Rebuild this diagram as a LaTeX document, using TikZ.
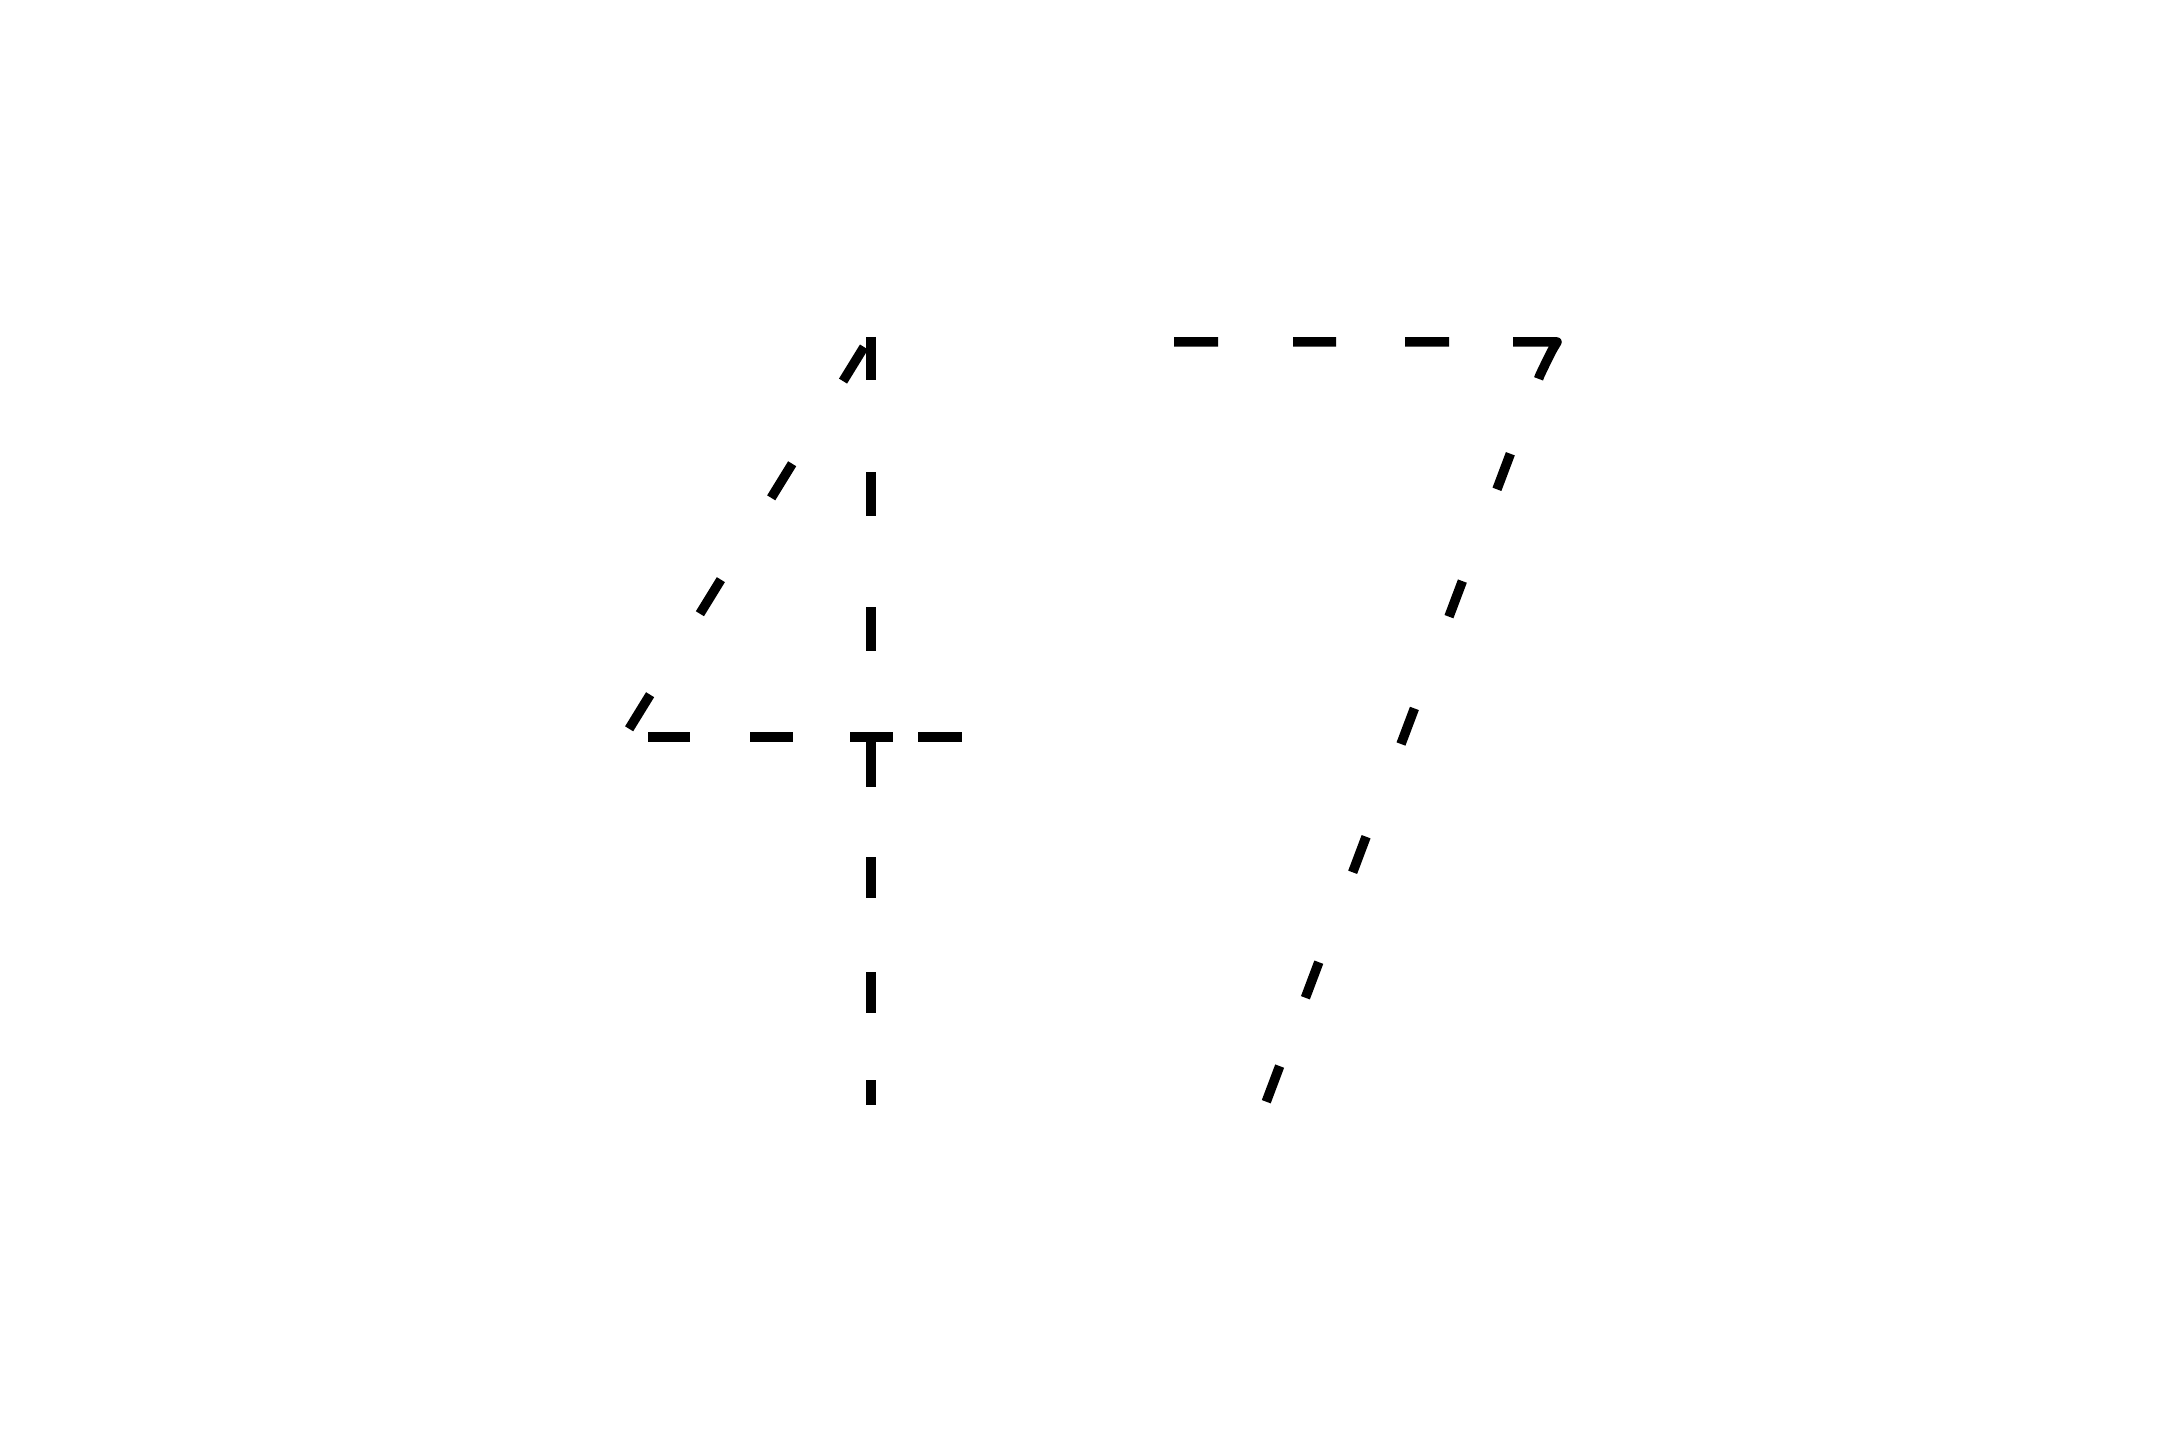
\documentclass[tikz,border=0pt]{standalone}
\usepackage{tikz}
\begin{document}
\begin{tikzpicture}[x=0.01cm,y=-0.01cm,
    glyph/.style={line width=0.095cm}]
  \useasboundingbox (0,0) rectangle (2160,1440);
  % the four
  \coordinate (fourtop) at (871,337);
  \coordinate (fourbot) at (871,1105);
  \coordinate (slanttop) at (864,347);
  \coordinate (slantbot) at (629,729);
  \coordinate (barleft) at (648,737);
  \coordinate (barright) at (962,737);
  \draw[glyph,dash pattern=on 0.43cm off 0.92cm on 0.44cm off 0.91cm on 0.44cm off 0.87cm
        on 0.49cm off 0.70cm on 0.41cm off 0.74cm on 0.41cm off 0.67cm on 0.25cm]
        (fourtop) -- (fourbot);
  \draw[glyph,dash pattern=on 0.40cm off 0.97cm on 0.40cm off 0.96cm on 0.40cm off 0.95cm on 0.40cm]
        (slanttop) -- (slantbot);
  \draw[glyph,dash pattern=on 0.42cm off 0.60cm on 0.43cm off 0.57cm on 0.43cm off 0.25cm on 0.44cm]
        (barleft) -- (barright);
  % the seven
  \coordinate (sevenleft) at (1174,342);
  \coordinate (sevencorner) at (1557,342);
  \coordinate (sevenbend) at (1540,375);
  \coordinate (sevenfoot) at (1265,1105);
  \draw[glyph,line join=round,dash pattern=on 0.44cm off 0.75cm on 0.43cm off 0.69cm on 0.44cm off 0.64cm
        on 0.85cm off 0.80cm on 0.38cm off 0.98cm on 0.38cm off 0.98cm on 0.38cm off 0.99cm
        on 0.38cm off 0.96cm on 0.38cm off 0.73cm on 0.38cm]
        (sevenleft) -- (sevencorner) .. controls (1551,352) .. (sevenbend) -- (sevenfoot);
\end{tikzpicture}
\end{document}
